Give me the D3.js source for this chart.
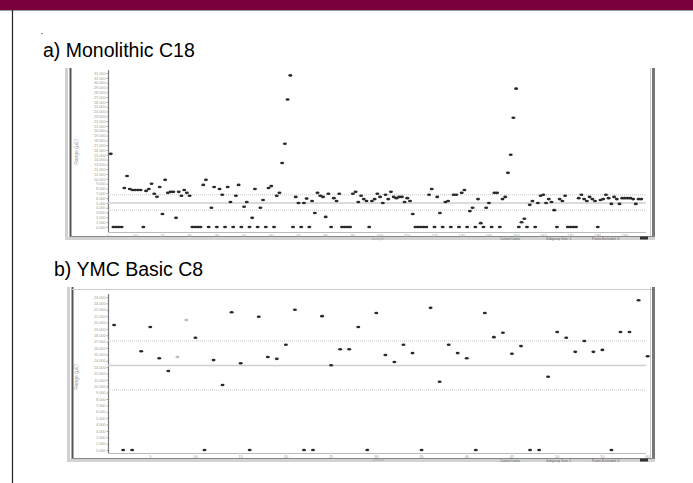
<!DOCTYPE html>
<html>
<head>
<meta charset="utf-8">
<script src="https://d3js.org/d3.v7.min.js"></script>
<style>
body { margin: 0; background: #fff; }
text { font-family: 'Liberation Sans', Arial, sans-serif; }
</style>
</head>
<body>
<svg id="svg" width="693" height="483"></svg>
<script>
'use strict';

// a) Monolithic C18 : one value per sample, 1..196
const monoVals = [
	15.2, 0, 0, 0, 0, 8.1, 10.6, 7.9, 7.7, 7.7,
	7.7, 7.7, 0, 7.5, 7.9, 9.0, 6.9, 6.3, 8.3, 2.7,
	9.8, 7.1, 7.3, 7.3, 1.9, 7.3, 6.5, 7.7, 7.1, 6.5,
	0, 0, 0, 0, 8.75, 9.8, 0, 4.0, 8.3, 0,
	7.9, 6.7, 0, 8.3, 5.2, 0, 6.5, 8.75, 0, 4.2,
	5.2, 0, 1.9, 7.9, 0, 4.0, 5.6, 0, 8.1, 8.5,
	0, 6.5, 7.1, 13.3, 17.3, 26.5, 31.5, 0, 6.25, 5.0,
	0, 5.0, 5.9, 0, 5.4, 2.9, 7.1, 6.5, 6.25, 2.1,
	6.9, 0, 6.0, 5.4, 6.9, 0, 0, 0, 0, 6.9,
	7.3, 5.2, 6.5, 5.8, 5.4, 0, 5.4, 5.8, 6.9, 6.25,
	5.0, 6.7, 5.8, 7.3, 6.25, 6.0, 6.25, 6.25, 5.2, 6.0,
	5.4, 2.7, 0, 0, 0, 0, 0, 6.7, 7.9, 0,
	6.25, 2.9, 0, 5.2, 5.4, 0, 6.7, 6.7, 0, 7.1,
	7.7, 0, 3.3, 4.0, 0, 5.8, 0.8, 0, 4.0, 5.0,
	0, 7.1, 7.1, 0, 5.8, 6.25, 11.25, 15.0, 22.7, 28.75,
	0, 1.0, 1.7, 0, 4.6, 5.4, 0, 5.0, 6.5, 6.7,
	5.0, 5.8, 5.2, 3.5, 0, 5.8, 5.4, 6.5, 0, 0,
	0, 0, 6.0, 6.7, 5.8, 5.4, 6.25, 5.8, 5.4, 0,
	5.6, 5.8, 6.7, 6.0, 4.8, 6.25, 5.8, 4.8, 6.0, 6.0,
	6.0, 6.0, 5.8, 4.8, 5.8, 5.8
];
const monoLimits = [6.7, 5.0, 3.5]; // upper, centre, lower
const monoTicksY = d3.range(0, 33);
const monoTicksX = d3.range(0, 200, 10);

// b) YMC Basic C8 : samples 1..60
const basicVals = [
	19.6, 0, 0, 15.5, 19.3, 14.4, 12.4, 14.6, 20.4, 17.6,
	0, 14.1, 10.2, 21.6, 13.6, 0, 20.9, 14.6, 14.3, 16.5,
	22.0, 0, 0, 21.0, 13.3, 15.8, 15.8, 19.3, 0, 21.5,
	14.9, 13.8, 16.5, 15.2, 0, 22.3, 10.7, 16.5, 15.2, 14.4,
	0, 21.5, 17.7, 18.4, 15.1, 16.3, 0, 0, 11.5, 18.5,
	17.6, 15.4, 17.1, 15.4, 15.7, 0, 18.5, 18.5, 23.5, 14.7
];
const basicFaded = [8, 9];
const basicLimits = [17.1, 13.25, 9.4];
const basicTicksY = d3.range(0, 25);
const basicTicksX = d3.range(5, 65, 5);

const titles = ['a) Monolithic C18', 'b) YMC Basic C8'];
const yLabel = 'Range (µE)';
const xLabel = 'Sample';
const statusBits = ['Control Limits', 'Subgroup Size: 1', 'Points Excluded: 0'];

const svg = d3.select('#svg');

// slide header
svg.append('rect').attr('x', 0).attr('y', 0).attr('width', 693).attr('height', 10).attr('fill', '#7a003c');
svg.append('line').attr('x1', 0).attr('x2', 693).attr('y1', 10.5).attr('y2', 10.5).attr('stroke', '#999');
svg.append('line').attr('x1', 12.5).attr('x2', 12.5).attr('y1', 10).attr('y2', 483).attr('stroke', '#222').attr('stroke-width', 1.2);
svg.append('rect').attr('x', 41).attr('y', 33).attr('width', 2).attr('height', 1).attr('fill', '#999');

function frame(g, top, bottom, left, topLine) {
	g.append('rect').attr('x', left - 5).attr('y', top).attr('width', 3).attr('height', bottom - top + 3).attr('fill', '#d0d0d0');
	g.append('line').attr('x1', left + 0.5).attr('x2', left + 0.5).attr('y1', top).attr('y2', bottom).attr('stroke', '#555').attr('stroke-width', 2);
	if (topLine) {
		g.append('line').attr('x1', left).attr('x2', 653).attr('y1', top + 2.5).attr('y2', top + 2.5).attr('stroke', '#ccc');
	}
	g.append('line').attr('x1', 650.5).attr('x2', 650.5).attr('y1', top).attr('y2', bottom).attr('stroke', '#ccc');
	g.append('line').attr('x1', 653.5).attr('x2', 653.5).attr('y1', top).attr('y2', bottom + 2).attr('stroke', '#777').attr('stroke-width', 3);
	g.append('line').attr('x1', left).attr('x2', 655).attr('y1', bottom - 0.5).attr('y2', bottom - 0.5).attr('stroke', '#888');
	g.append('rect').attr('x', left - 5).attr('y', bottom).attr('width', 655 - left + 5).attr('height', 3).attr('fill', '#d3d3d3');
}

function chart(o) {
	const g = svg.append('g');
	frame(g, o.top, o.bottom, o.left, o.topLine);

	const x = d3.scaleLinear().domain(o.xDomain).range([108, 644]);
	const y = d3.scaleLinear().domain(o.yDomain).range(o.yRange);

	// y axis
	const ya = g.append('g').attr('transform', 'translate(108,0)')
		.call(d3.axisLeft(y).tickValues(o.yTicks).tickSize(1.5).tickFormat(d3.format('.3f')));
	ya.select('.domain').remove();
	ya.selectAll('line').attr('stroke', '#aaa');
	ya.selectAll('text').attr('font-size', 3.8).attr('fill', '#999').attr('x', -2.5).attr('font-family', 'Liberation Sans, Arial, sans-serif');
	g.append('line').attr('x1', 108.5).attr('x2', 108.5).attr('y1', o.yRange[1] - 3).attr('y2', o.axisY)
		.attr('stroke', '#777').attr('stroke-width', 1.2);

	// x axis
	g.append('line').attr('x1', 108).attr('x2', 646).attr('y1', o.axisY + 0.5).attr('y2', o.axisY + 0.5).attr('stroke', '#bbb');
	g.selectAll('.xt').data(o.xTicks).join('text')
		.attr('x', d => x(d)).attr('y', o.axisY + 4.5)
		.attr('text-anchor', 'middle').attr('font-size', 3.8).attr('fill', '#999')
		.text(d => d);
	g.append('text').attr('x', 378).attr('y', o.axisY + 7.5).attr('text-anchor', 'middle')
		.attr('font-size', 3.8).attr('fill', '#aaa').text(xLabel);
	g.append('text').attr('transform', `translate(78,${o.labelY}) rotate(-90)`).attr('text-anchor', 'middle')
		.attr('font-size', 5).attr('fill', '#999').text(yLabel);

	// control limits
	o.limits.forEach((v, i) => {
		g.append('line').attr('x1', 108).attr('x2', 646).attr('y1', y(v)).attr('y2', y(v))
			.attr('stroke', i === 1 ? '#cfcfcf' : '#c4c4c4')
			.attr('stroke-width', i === 1 ? 1.6 : 1)
			.attr('stroke-dasharray', i === 1 ? null : '1,1');
	});

	// points
	g.selectAll('.pt').data(o.vals).join('ellipse')
		.attr('cx', (d, i) => x(i + 1))
		.attr('cy', d => y(d))
		.attr('rx', 2).attr('ry', 1.3)
		.attr('fill', (d, i) => o.faded.includes(i + 1) ? '#bbb' : '#2a2a2a');

	// status bar bits
	statusBits.forEach((t, i) => {
		g.append('text').attr('x', 500 + i * 46).attr('y', o.bottom + 2.6).attr('font-size', 3.3).attr('fill', '#666').text(t);
	});
	g.append('rect').attr('x', 640).attr('y', o.bottom - 0.5).attr('width', 8).attr('height', 3).attr('fill', '#333');
}

svg.append('text').attr('x', 43).attr('y', 57).attr('font-size', 19.5).attr('fill', '#000').text(titles[0]);
chart({
	vals: monoVals, limits: monoLimits, yTicks: monoTicksY, xTicks: monoTicksX, faded: [],
	xDomain: [0, 197], yDomain: [0, 32], yRange: [227, 73],
	top: 68, bottom: 237, left: 70, axisY: 232, labelY: 152, topLine: false
});

svg.append('text').attr('x', 54).attr('y', 276).attr('font-size', 19.5).attr('fill', '#000').text(titles[1]);
chart({
	vals: basicVals, limits: basicLimits, yTicks: basicTicksY, xTicks: basicTicksX, faded: basicFaded,
	xDomain: [0.33, 59.6], yDomain: [0, 24], yRange: [450, 297],
	top: 287, bottom: 459, left: 72, axisY: 453, labelY: 377, topLine: true
});
</script>
</body>
</html>
